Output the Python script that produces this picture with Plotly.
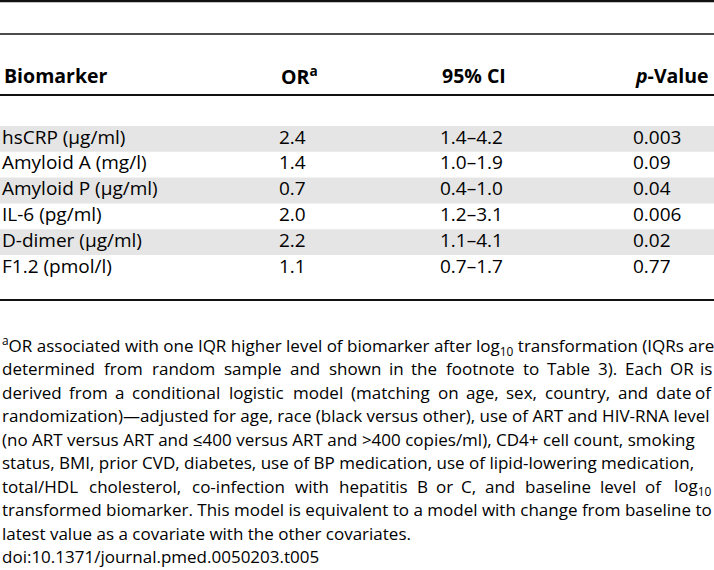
import plotly.graph_objects as go

# ---- table data ----
biomarkers = ["hsCRP (μg/ml)", "Amyloid A (mg/l)", "Amyloid P (μg/ml)",
              "IL-6 (pg/ml)", "D-dimer (μg/ml)", "F1.2 (pmol/l)"]
odds_ratio = ["2.4", "1.4", "0.7", "2.0", "2.2", "1.1"]
ci_95 = ["1.4–4.2", "1.0–1.9", "0.4–1.0", "1.2–3.1", "1.1–4.1", "0.7–1.7"]
p_value = ["0.003", "0.09", "0.04", "0.006", "0.02", "0.77"]
headers = ["Biomarker", "OR<sup>a</sup>", "95% CI", "<i>p</i>-Value"]

footnote_lines = [
    "<sup>a</sup>OR associated with one IQR higher level of biomarker after log<sub>10</sub> transformation (IQRs are",
    "determined from random sample and shown in the footnote to Table 3). Each OR is",
    "derived from a conditional logistic model (matching on age, sex, country, and date of",
    "randomization)—adjusted for age, race (black versus other), use of ART and HIV-RNA level",
    "(no ART versus ART and ≤400 versus ART and >400 copies/ml), CD4+ cell count, smoking",
    "status, BMI, prior CVD, diabetes, use of BP medication, use of lipid-lowering medication,",
    "total/HDL cholesterol, co-infection with hepatitis B or C, and baseline level of log<sub>10</sub>",
    "transformed biomarker. This model is equivalent to a model with change from baseline to",
    "latest value as a covariate with the other covariates.",
    "doi:10.1371/journal.pmed.0050203.t005",
]
justified = [1, 2, 6]

W, H = 714, 570
FONT = "Open Sans, Arial, sans-serif"
col_x = [2, 279, 440, 633]
row_y0, row_h = 126, 25.8
note_y0, note_h = 345, 23.5

fig = go.Figure()

# shaded rows
for i in range(0, len(biomarkers), 2):
    fig.add_shape(type="rect", x0=0, x1=W, y0=row_y0 + i * row_h, y1=row_y0 + (i + 1) * row_h,
                  fillcolor="#e5e5e5", line_width=0, layer="below")

# rules
for y, w in [(1, 2.5), (34, 1.5), (95, 2), (300, 2)]:
    fig.add_shape(type="line", x0=0, x1=W, y0=y, y1=y, line=dict(color="#111", width=w))

# header
for x, h in zip(col_x, headers):
    fig.add_annotation(x=x, y=75, text=f"<b>{h}</b>", xanchor="left", yanchor="middle",
                       showarrow=False, font=dict(size=19.5, color="#000", family=FONT))

# body cells
for c, col in enumerate([biomarkers, odds_ratio, ci_95, p_value]):
    fig.add_trace(go.Scatter(
        x=[col_x[c]] * len(col), y=[row_y0 + (i + 0.5) * row_h for i in range(len(col))],
        mode="text", text=col, textposition="middle right",
        textfont=dict(size=19, color="#000", family=FONT), hoverinfo="skip", showlegend=False,
    ))

# rough Open Sans advance widths (em) for spreading justified words
ADV = dict(zip("abcdefghijklmnopqrstuvwxyz",
               [.556, .613, .480, .613, .561, .336, .546, .613, .258, .258, .529, .258, .932,
                .613, .604, .613, .613, .408, .477, .353, .613, .500, .778, .523, .500, .468]))
ADV.update(zip("ABCDEFGHIJKLMNOPQRSTUVWXYZ",
               [.633, .647, .631, .729, .556, .516, .728, .738, .279, .258, .595, .519, .907,
                .763, .779, .602, .779, .618, .549, .553, .733, .584, .898, .576, .560, .559]))
ADV.update({c: .572 for c in "0123456789"})
ADV.update({".": .266, ",": .258, "(": .303, ")": .303, "-": .322, ":": .266, "/": .371})


def est_width(word, size):
    return sum(ADV.get(ch, .56) for ch in word) * size * 1.04


NOTE_SIZE = 17
for k, line in enumerate(footnote_lines):
    y = note_y0 + k * note_h
    if k in justified:
        # spread words across the full width (justified paragraph line)
        words = line.split(" ")
        plain = [wd.replace("<sub>", "").replace("</sub>", "") for wd in words]
        ws = [est_width(p, NOTE_SIZE) for p in plain]
        gap = (W - sum(ws)) / (len(words) - 1)
        x = 0
        for j, (wd, ww) in enumerate(zip(words, ws)):
            if j == 0:
                xa, anchor = 0, "left"
            elif j == len(words) - 1:
                xa, anchor = W, "right"
            else:
                xa, anchor = x + ww / 2, "center"
            fig.add_annotation(x=xa, y=y, text=wd, xanchor=anchor, yanchor="middle",
                               showarrow=False, font=dict(size=NOTE_SIZE, color="#000", family=FONT))
            x += ww + gap
    else:
        fig.add_annotation(x=0, y=y, text=line, xanchor="left", yanchor="middle",
                           showarrow=False, font=dict(size=NOTE_SIZE, color="#000", family=FONT))

fig.update_layout(
    width=W, height=H, margin=dict(l=0, r=0, t=0, b=0),
    paper_bgcolor="white", plot_bgcolor="white",
    xaxis=dict(range=[0, W], visible=False, fixedrange=True),
    yaxis=dict(range=[H, 0], visible=False, fixedrange=True),
)
fig.write_html("out.html", config={"displayModeBar": False},
               post_script="document.body.style.margin='0';document.body.style.overflow='hidden';")
